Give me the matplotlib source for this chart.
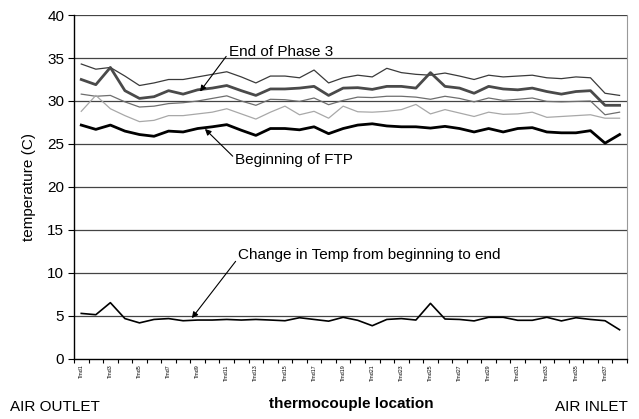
import matplotlib
matplotlib.use("Agg")
import matplotlib.pyplot as plt
from matplotlib.ticker import FixedLocator

plt.rcParams['font.family'] = ['Liberation Sans', 'DejaVu Sans']

locations = [f"Tmd{i}" for i in range(1, 39)]

# thin dark grey line (top)
end_upper = [34.3, 33.7, 33.9, 32.9, 31.8, 32.1, 32.5, 32.5, 32.8, 33.1,
             33.4, 32.8, 32.1, 32.9, 32.9, 32.7, 33.6, 32.1, 32.7, 33.0,
             32.8, 33.8, 33.3, 33.1, 33.0, 33.25, 32.9, 32.5, 33.0, 32.8,
             32.9, 33.0, 32.7, 32.6, 32.8, 32.7, 30.9, 30.65]
# thick dark grey line - end of phase 3
end_phase3 = [32.5, 31.9, 33.9, 31.2, 30.3, 30.5, 31.2, 30.8, 31.3, 31.5,
              31.8, 31.2, 30.65, 31.4, 31.4, 31.5, 31.7, 30.65, 31.5, 31.55,
              31.35, 31.7, 31.7, 31.5, 33.3, 31.7, 31.5, 30.9, 31.7, 31.4,
              31.3, 31.5, 31.1, 30.8, 31.1, 31.2, 29.5, 29.5]
# thin mid grey line
mid_grey = [30.8, 30.55, 30.65, 29.9, 29.3, 29.4, 29.7, 29.8, 30.0, 30.3,
            30.6, 30.0, 29.5, 30.2, 30.15, 29.95, 30.35, 29.57, 30.07, 30.45,
            30.4, 30.55, 30.55, 30.45, 30.2, 30.55, 30.3, 29.9, 30.35, 30.07,
            30.2, 30.35, 29.95, 29.9, 29.95, 30.0, 28.4, 28.7]
# thin light grey line
light_grey = [28.8, 30.65, 29.1, 28.3, 27.6, 27.75, 28.3, 28.3, 28.5, 28.7,
              29.1, 28.5, 27.9, 28.7, 29.4, 28.4, 28.8, 28.0, 29.4, 28.75,
              28.7, 28.8, 29.0, 29.6, 28.5, 29.0, 28.6, 28.2, 28.7, 28.45,
              28.5, 28.7, 28.1, 28.2, 28.3, 28.4, 28.0, 28.0]
# thick black line - beginning of FTP
begin_ftp = [27.2, 26.7, 27.2, 26.5, 26.1, 25.9, 26.5, 26.4, 26.8, 27.0,
             27.25, 26.6, 26.0, 26.8, 26.8, 26.65, 27.0, 26.2, 26.8, 27.2,
             27.35, 27.1, 27.0, 27.0, 26.85, 27.05, 26.8, 26.4, 26.8, 26.4,
             26.8, 26.9, 26.4, 26.3, 26.3, 26.55, 25.1, 26.1]
# change in temp from beginning to end
change = [5.3, 5.15, 6.55, 4.7, 4.2, 4.6, 4.7, 4.45, 4.53, 4.53,
          4.6, 4.53, 4.6, 4.53, 4.45, 4.8, 4.6, 4.4, 4.85, 4.5,
          3.87, 4.6, 4.7, 4.53, 6.47, 4.65, 4.6, 4.43, 4.85, 4.85,
          4.5, 4.5, 4.85, 4.43, 4.8, 4.6, 4.45, 3.4]

x = list(range(len(locations)))

fig = plt.figure(figsize=(6.39, 4.19), dpi=100)
ax = fig.add_axes([0.1158, 0.1432, 0.8652, 0.821])

for y in range(5, 41, 5):
    ax.axhline(y, color='#444444', lw=0.9, zorder=1)

ax.plot(x, end_upper, color='#3a3a3a', lw=0.9, zorder=3)
ax.plot(x, end_phase3, color='#4a4a4a', lw=2.0, zorder=3)
ax.plot(x, mid_grey, color='#6e6e6e', lw=0.9, zorder=3)
ax.plot(x, light_grey, color='#a8a8a8', lw=0.9, zorder=3)
ax.plot(x, begin_ftp, color='black', lw=2.0, zorder=3)
ax.plot(x, change, color='black', lw=1.2, zorder=3)

ax.set_xlim(-0.5, len(x) - 0.5)
ax.set_ylim(0, 40)
ax.set_yticks(range(0, 41, 5))
ax.tick_params(axis='y', labelsize=11, length=4, width=0.8, direction='out', pad=3)

ax.set_xticks(x[::2])
ax.set_xticklabels(locations[::2], rotation=90, fontsize=3.8)
ax.xaxis.set_minor_locator(FixedLocator([i - 0.5 for i in range(len(x) + 1)]))
ax.tick_params(axis='x', which='major', length=0, pad=4)
ax.tick_params(axis='x', which='minor', length=3, width=0.8, direction='out')

ax.spines['top'].set_visible(False)
ax.spines['right'].set_color('#999999')
ax.spines['left'].set_linewidth(1.0)
ax.spines['bottom'].set_linewidth(1.0)

ax.set_ylabel('temperature (C)', fontsize=11, labelpad=8)

arrow = dict(arrowstyle='-|>', color='black', lw=0.8, mutation_scale=9,
             shrinkA=0, shrinkB=0)
ax.annotate('End of Phase 3', xy=(8.16, 31.1), xytext=(10.15, 35.7),
            fontsize=11, ha='left', va='center',
            arrowprops=dict(arrow, relpos=(0, 0.45)))
ax.annotate('Beginning of FTP', xy=(8.5, 26.75), xytext=(10.6, 23.1),
            fontsize=11, ha='left', va='center',
            arrowprops=dict(arrow, relpos=(0, 0.6)))
ax.annotate('Change in Temp from beginning to end', xy=(7.6, 4.75),
            xytext=(10.8, 12.1), fontsize=11, ha='left', va='center',
            arrowprops=dict(arrow, relpos=(0, 0.3)))

fig.text(0.016, 0.028, 'AIR OUTLET', fontsize=11, ha='left', va='center')
fig.text(0.55, 0.036, 'thermocouple location', fontsize=11, fontweight='bold',
         ha='center', va='center')
fig.text(0.983, 0.028, 'AIR INLET', fontsize=11, ha='right', va='center')

fig.savefig('out.png', dpi=100)
